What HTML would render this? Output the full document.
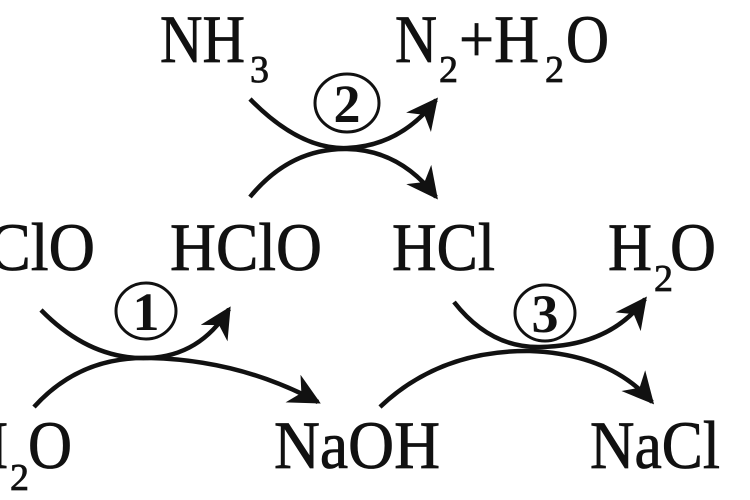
<!DOCTYPE html>
<html><head><meta charset="utf-8"><style>
html,body{margin:0;padding:0;background:#fff;}
svg{display:block;}
text{font-family:"Liberation Serif",serif;fill:#111;stroke:#111;stroke-width:0.8px;}
.t{font-size:68px;}
.s{font-size:38px;}
.c{font-size:54px;font-weight:bold;stroke-width:0;}
</style></head><body>
<svg width="750" height="500" viewBox="0 0 750 500" xmlns="http://www.w3.org/2000/svg">
<defs>
<marker id="a" viewBox="0 0 10 10" refX="9" refY="5" markerWidth="8" markerHeight="7" orient="auto" markerUnits="strokeWidth">
<path d="M0,0 L10,5 L0,10 L3,5 z" fill="#111"/>
</marker>
</defs>
<g fill="none" stroke="#111" stroke-width="4.5">
<path d="M250,99 Q300,150 347,148 Q400,146 436,100" marker-end="url(#a)"/>
<path d="M250,197 Q290,148 347,149 Q400,150 436,197" marker-end="url(#a)"/>
<path d="M41,310 Q90,360 148,358 Q200,356 229,309" marker-end="url(#a)"/>
<path d="M34,407 Q80,356 150,358 Q240,360 318,402" marker-end="url(#a)"/>
<path d="M454,302 Q490,348 540,347 Q610,346 645,299" marker-end="url(#a)"/>
<path d="M380,407 Q440,350 530,351 Q610,354 652,402" marker-end="url(#a)"/>
</g>
<g fill="none" stroke="#111" stroke-width="3">
<ellipse cx="347" cy="103" rx="32" ry="29"/>
<ellipse cx="146" cy="311" rx="30" ry="28"/>
<ellipse cx="545" cy="313" rx="30" ry="28"/>
</g>
<text class="c" x="347" y="122" text-anchor="middle">2</text>
<text class="c" x="146" y="330" text-anchor="middle">1</text>
<text class="c" x="545" y="332" text-anchor="middle">3</text>

<text class="t" x="160" y="62" textLength="85" lengthAdjust="spacingAndGlyphs">NH</text><text class="s" x="250" y="82">3</text>
<text class="t" x="395" y="62" textLength="42" lengthAdjust="spacingAndGlyphs">N</text><text class="s" x="439" y="82">2</text>
<text class="t" x="459" y="62" textLength="80" lengthAdjust="spacingAndGlyphs">+H</text><text class="s" x="545" y="82">2</text>
<text class="t" x="566" y="62" textLength="43" lengthAdjust="spacingAndGlyphs">O</text>

<text class="t" x="-12" y="270" textLength="107" lengthAdjust="spacingAndGlyphs">ClO</text>
<text class="t" x="170" y="270" textLength="152" lengthAdjust="spacingAndGlyphs">HClO</text>
<text class="t" x="392" y="270" textLength="103" lengthAdjust="spacingAndGlyphs">HCl</text>
<text class="t" x="608" y="270" textLength="44" lengthAdjust="spacingAndGlyphs">H</text><text class="s" x="654" y="291">2</text><text class="t" x="670" y="270" textLength="46" lengthAdjust="spacingAndGlyphs">O</text>

<text class="t" x="-36" y="468" textLength="44" lengthAdjust="spacingAndGlyphs">H</text><text class="s" x="10" y="490">2</text><text class="t" x="28" y="468" textLength="44" lengthAdjust="spacingAndGlyphs">O</text>
<text class="t" x="274" y="468" textLength="166" lengthAdjust="spacingAndGlyphs">NaOH</text>
<text class="t" x="590" y="468" textLength="130" lengthAdjust="spacingAndGlyphs">NaCl</text>
</svg>
</body></html>
